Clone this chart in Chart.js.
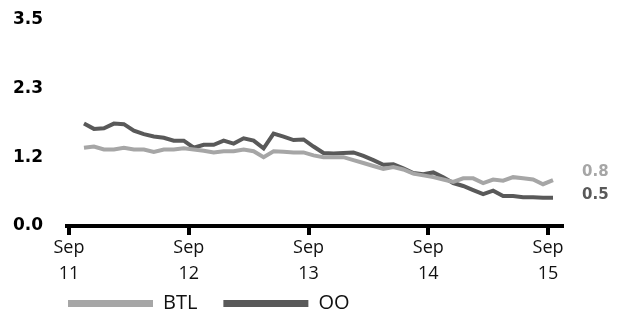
<!DOCTYPE html>
<html>
<head>
<meta charset="utf-8">
<script src="https://cdn.jsdelivr.net/npm/chart.js@4.4.1/dist/chart.umd.min.js"></script>
<style>
  body { margin: 0; background: #fff; }
  canvas { display: block; }
</style>
</head>
<body>
<canvas id="chart" width="617" height="315"></canvas>
<script>
// monthly figures, Oct 2011 .. Sep 2015 (month 0 = Sep 2011)
const firstMonth = 1;
const btl = [1.33, 1.35, 1.30, 1.30, 1.33, 1.30, 1.30, 1.26, 1.30, 1.30,
             1.32, 1.30, 1.28, 1.25, 1.27, 1.27, 1.30, 1.27, 1.17, 1.27,
             1.26, 1.25, 1.25, 1.20, 1.17, 1.17, 1.17, 1.12, 1.07, 1.02,
             0.97, 1.00, 0.96, 0.89, 0.86, 0.83, 0.79, 0.75, 0.81, 0.81,
             0.73, 0.79, 0.77, 0.83, 0.81, 0.79, 0.71, 0.78];
const oo = [1.74, 1.65, 1.66, 1.74, 1.73, 1.62, 1.56, 1.52, 1.50, 1.45,
            1.45, 1.33, 1.38, 1.38, 1.45, 1.40, 1.49, 1.45, 1.32, 1.57,
            1.52, 1.46, 1.47, 1.35, 1.24, 1.23, 1.24, 1.25, 1.19, 1.12,
            1.04, 1.05, 0.98, 0.90, 0.88, 0.91, 0.83, 0.73, 0.68, 0.61,
            0.54, 0.60, 0.51, 0.51, 0.49, 0.49, 0.48, 0.48];

const seriesNames = ['BTL', 'OO'];
const seriesColors = ['#a6a6a6', '#595959'];

const yTicks = [0, 1.1667, 2.3333, 3.5];
const yTickLabels = ['0.0', '1.2', '2.3', '3.5'];
const xTicks = [0, 12, 24, 36, 48];
const xTickLabels = [['Sep', '11'], ['Sep', '12'], ['Sep', '13'], ['Sep', '14'], ['Sep', '15']];
const endNudge = [-8, -3]; // keep the two end labels apart

// points sit mid-month
const toPoints = arr => arr.map((v, i) => ({ x: firstMonth + i + 0.5, y: v }));

Chart.defaults.font.family = '"Open Sans", sans-serif';
Chart.defaults.color = '#111';

const endLabels = {
  id: 'endLabels',
  afterDatasetsDraw(chart) {
    const ctx = chart.ctx;
    ctx.save();
    ctx.font = 'bold 15px "DejaVu Sans"';
    ctx.textBaseline = 'middle';
    ctx.textAlign = 'left';
    chart.data.datasets.forEach((ds, i) => {
      const pts = chart.getDatasetMeta(i).data;
      const last = pts[pts.length - 1];
      const val = ds.data[ds.data.length - 1].y;
      ctx.fillStyle = ds.borderColor;
      ctx.fillText(val.toFixed(1), last.x + 29, last.y + endNudge[i]);
    });
    ctx.restore();
  }
};

// legend sits under the tick labels, lined up with the axis start
const legendPlace = {
  id: 'legendPlace',
  afterLayout(chart) {
    chart.legend.left += 29;
    chart.legend.top -= 21.5;
  }
};

new Chart(document.getElementById('chart'), {
  type: 'line',
  data: {
    datasets: [
      { label: seriesNames[0], data: toPoints(btl), borderColor: seriesColors[0], backgroundColor: seriesColors[0] },
      { label: seriesNames[1], data: toPoints(oo), borderColor: seriesColors[1], backgroundColor: seriesColors[1] }
    ]
  },
  options: {
    responsive: false,
    animation: false,
    layout: { padding: { left: 13, right: 55, top: 20, bottom: 0 } },
    elements: {
      line: { borderWidth: 4, tension: 0, fill: false },
      point: { radius: 0 }
    },
    scales: {
      x: {
        type: 'linear',
        min: -0.2,
        max: 49.4,
        afterBuildTicks: s => { s.ticks = xTicks.map(v => ({ value: v })); },
        afterFit: s => { s.height = 63; },
        ticks: {
          autoSkip: false,
          maxRotation: 0,
          padding: 0,
          color: '#111',
          font: { size: 18, lineHeight: 1.45 },
          callback: v => xTickLabels[xTicks.indexOf(v)]
        },
        grid: { display: true, drawOnChartArea: false, drawTicks: true, tickLength: 9, lineWidth: 4, color: '#000' },
        border: { display: true, color: '#000', width: 4 }
      },
      y: {
        min: 0,
        max: 3.5,
        afterBuildTicks: s => { s.ticks = yTicks.map(v => ({ value: v })); },
        afterFit: s => { s.width = 54; },
        ticks: {
          padding: 0,
          crossAlign: 'far',
          color: '#000',
          font: { family: '"DejaVu Sans"', weight: 'bold', size: 17 },
          callback: v => yTickLabels[yTicks.indexOf(v)]
        },
        grid: { display: false, drawTicks: false },
        border: { display: false }
      }
    },
    plugins: {
      tooltip: { enabled: false },
      legend: {
        position: 'bottom',
        align: 'start',
        maxHeight: 26,
        labels: {
          boxWidth: 85,
          boxHeight: 7,
          padding: 26,
          color: '#111',
          font: { size: 20 },
          generateLabels: c => Chart.defaults.plugins.legend.labels.generateLabels(c)
            .map(l => Object.assign(l, { lineWidth: 0, fillStyle: l.strokeStyle }))
        }
      }
    }
  },
  plugins: [endLabels, legendPlace]
});
</script>
</body>
</html>
